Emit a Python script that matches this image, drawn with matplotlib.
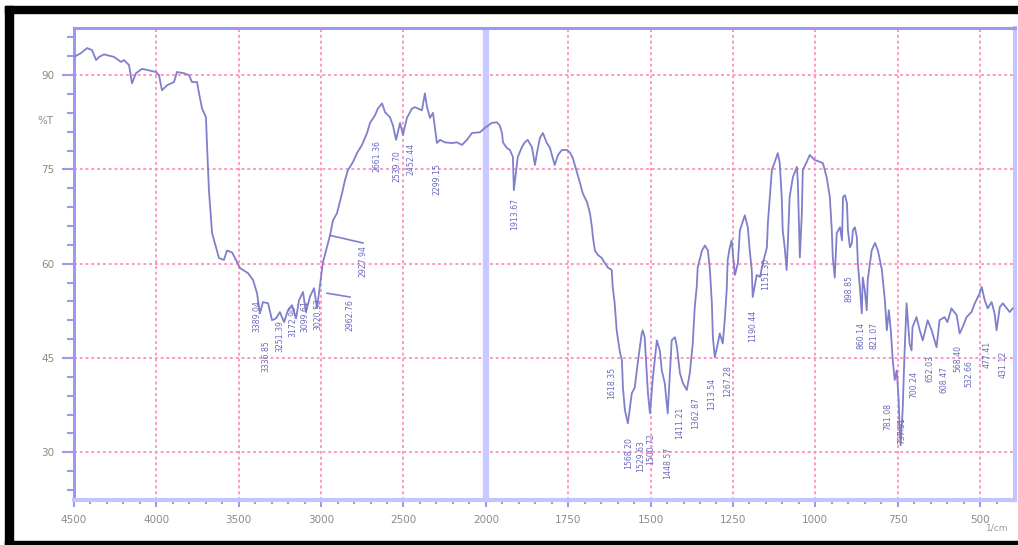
import numpy as np
import matplotlib
matplotlib.use("Agg")
import matplotlib.pyplot as plt
from matplotlib.patches import Rectangle

# ---------------- data ----------------
wavenumber = [4500, 4458, 4421, 4391, 4366, 4348, 4318, 4257, 4215, 4197, 4166, 4148, 4124, 4087, 4002, 3984,
              3966, 3935, 3893, 3875, 3832, 3802, 3784, 3753, 3741, 3723, 3699, 3693, 3681, 3662, 3638, 3620,
              3590, 3571, 3541, 3517, 3492, 3444, 3413, 3389, 3371, 3353, 3322, 3298, 3274, 3250, 3225, 3201,
              3177, 3152, 3134, 3110, 3092, 3067, 3043, 3025, 3007, 2995, 2989, 2970, 2946, 2928, 2904, 2873,
              2855, 2837, 2806, 2782, 2752, 2721, 2703, 2673, 2655, 2630, 2612, 2582, 2564, 2545, 2521, 2503,
              2479, 2448, 2430, 2388, 2370, 2357, 2339, 2321, 2297, 2278, 2248, 2206, 2175, 2145, 2115, 2084,
              2036, 2006, 1982, 1967, 1958, 1951, 1948, 1936, 1927, 1918, 1915, 1903, 1891, 1882, 1873, 1860,
              1851, 1845, 1836, 1827, 1815, 1806, 1791, 1781, 1769, 1754, 1745, 1736, 1724, 1715, 1706, 1693,
              1684, 1678, 1675, 1669, 1660, 1648, 1639, 1630, 1618, 1615, 1609, 1603, 1593, 1587, 1584, 1578,
              1569, 1557, 1548, 1539, 1527, 1524, 1518, 1508, 1502, 1493, 1481, 1472, 1466, 1457, 1448, 1436,
              1426, 1420, 1411, 1402, 1390, 1381, 1372, 1366, 1360, 1357, 1344, 1335, 1326, 1320, 1314, 1311,
              1305, 1296, 1290, 1281, 1275, 1269, 1266, 1260, 1254, 1251, 1244, 1235, 1229, 1214, 1205, 1199,
              1193, 1190, 1178, 1168, 1159, 1147, 1144, 1138, 1132, 1123, 1114, 1108, 1102, 1099, 1093, 1087,
              1084, 1078, 1068, 1056, 1053, 1047, 1041, 1038, 1026, 1017, 1002, 986, 977, 965, 956, 950,
              947, 941, 935, 925, 919, 916, 910, 904, 901, 895, 889, 886, 880, 874, 871, 865,
              859, 856, 850, 844, 841, 829, 819, 810, 798, 789, 783, 777, 771, 765, 759, 753,
              747, 744, 741, 735, 729, 723, 714, 708, 705, 693, 683, 674, 659, 647, 632, 623,
              608, 599, 587, 571, 562, 553, 541, 526, 516, 501, 495, 486, 477, 465, 456, 450,
              440, 431, 419, 410, 401]

transmittance = [92.9, 93.5, 94.3, 94.0, 92.4, 92.9, 93.3, 92.9, 92.1, 92.4, 91.6, 88.7, 90.3, 91.0, 90.5, 90.0,
                 87.6, 88.4, 88.9, 90.5, 90.3, 90.0, 88.9, 88.9, 87.1, 84.7, 83.3, 79.2, 71.7, 64.9, 62.6, 60.9,
                 60.6, 62.1, 61.8, 60.6, 59.3, 58.5, 57.4, 55.3, 52.1, 53.9, 53.7, 51.0, 51.3, 52.3, 50.7, 52.6,
                 53.4, 51.3, 54.2, 55.5, 52.3, 54.8, 56.1, 52.9, 56.6, 59.0, 60.2, 62.1, 64.5, 66.9, 68.0, 71.2,
                 73.3, 74.9, 76.2, 77.6, 78.9, 80.8, 82.4, 83.6, 84.7, 85.5, 84.1, 83.3, 82.0, 79.7, 82.4, 80.5,
                 83.2, 84.7, 84.9, 84.4, 87.1, 84.9, 83.2, 84.0, 79.2, 79.7, 79.3, 79.2, 79.3, 78.9, 79.7, 80.8,
                 80.9, 81.6, 82.4, 82.5, 82.0, 80.8, 79.3, 78.4, 78.1, 77.0, 71.7, 77.0, 78.5, 79.3, 79.7, 78.5,
                 75.7, 77.6, 80.0, 80.8, 79.2, 78.5, 75.7, 77.3, 78.1, 78.1, 77.7, 76.8, 74.6, 73.0, 71.2, 69.8,
                 68.0, 65.8, 64.2, 62.1, 61.4, 60.9, 60.1, 59.4, 59.0, 56.3, 53.7, 49.4, 45.9, 44.6, 40.3, 36.7,
                 34.6, 39.4, 40.3, 44.2, 48.9, 49.4, 48.3, 39.4, 36.2, 41.9, 47.8, 46.2, 43.0, 41.0, 36.2, 47.8,
                 48.3, 46.7, 42.6, 41.0, 39.9, 42.6, 47.3, 53.1, 56.3, 59.4, 62.1, 62.9, 62.1, 59.0, 53.7, 48.3,
                 45.1, 47.3, 48.9, 47.3, 51.0, 55.8, 60.6, 62.5, 63.7, 62.1, 58.2, 60.1, 65.3, 67.7, 65.8, 62.1,
                 59.0, 54.7, 58.2, 57.9, 60.1, 62.6, 66.5, 70.6, 74.9, 76.2, 77.6, 76.0, 70.6, 65.3, 62.6, 59.0,
                 62.6, 70.6, 73.8, 75.4, 72.8, 61.0, 68.0, 74.9, 76.2, 77.3, 76.5, 76.2, 76.0, 73.6, 70.6, 65.3,
                 61.0, 57.8, 64.9, 65.8, 63.7, 70.6, 70.9, 69.6, 65.3, 62.6, 63.3, 65.3, 65.8, 64.2, 60.1, 56.3,
                 52.1, 57.8, 55.8, 52.6, 57.4, 62.1, 63.3, 62.1, 59.0, 54.2, 49.4, 52.6, 49.4, 44.6, 41.5, 43.0,
                 38.3, 33.5, 31.1, 36.7, 46.2, 53.7, 47.3, 46.2, 49.9, 51.5, 49.4, 47.8, 51.0, 49.4, 46.7, 51.0,
                 51.5, 50.7, 52.9, 51.8, 48.9, 49.9, 51.5, 52.3, 53.7, 55.3, 56.3, 54.2, 52.9, 53.9, 52.1, 49.4,
                 53.1, 53.7, 52.9, 52.3, 52.9]

# peak labels (wavenumber, %T at top of label)
peak_wn = [3389.04, 3336.85, 3251.39, 3172.90, 3099.61, 3020.53, 2661.36, 2539.70, 2452.44, 2299.15,
           1913.67, 1618.35, 1568.20, 1529.63, 1500.72, 1448.57, 1411.21, 1362.87, 1313.54, 1267.28,
           1190.44, 1151.30, 898.85, 860.14, 821.07, 781.08, 737.91, 700.24, 652.03, 608.47,
           568.40, 532.66, 477.41, 431.12]
peak_T = [54.2, 47.8, 51.0, 53.4, 54.2, 54.5, 79.7, 78.0, 79.2, 76.0,
          70.4, 43.5, 32.4, 31.9, 33.0, 30.8, 37.2, 38.8, 41.8, 43.9,
          52.6, 61.0, 58.2, 50.7, 50.7, 37.8, 35.6, 43.0, 45.4, 43.8,
          47.0, 44.6, 47.8, 46.2]
# labels attached through leader lines
leader_labels = ["2962.76", "2927.94"]
leader_from_wn = [2964, 2946]
leader_from_T = [55.3, 64.5]
leader_to_wn = [2825, 2746]
leader_to_T = [54.7, 63.3]

x_major = [4500, 4000, 3500, 3000, 2500, 2000, 1750, 1500, 1250, 1000, 750, 500]
y_major = [30, 45, 60, 75, 90]
assert len(wavenumber) == len(transmittance)

# ---------------- figure ----------------
W, H = 1018, 545
fig = plt.figure(figsize=(W / 100, H / 100), dpi=100)
fig.patch.set_facecolor("white")

# black outer frame
fig.patches.append(Rectangle((5 / W, 1 - 13 / H), 1 - 5 / W, 7 / H, transform=fig.transFigure,
                             color="black", zorder=0))
fig.patches.append(Rectangle((5 / W, 0), 8 / W, 1 - 6 / H, transform=fig.transFigure,
                             color="black", zorder=0))
fig.patches.append(Rectangle((5 / W, 0), 1 - 5 / W, 4 / H, transform=fig.transFigure,
                             color="black", zorder=0))

ax = fig.add_axes([74 / W, (H - 500) / H, (1015 - 74) / W, (500 - 28) / H])


def fwd(w):
    w = np.asarray(w, dtype=float)
    return np.where(w > 2000, 2000 + (w - 2000) / 2.0, w)


def inv(t):
    t = np.asarray(t, dtype=float)
    return np.where(t > 2000, 2000 + (t - 2000) * 2.0, t)


ax.set_xscale("function", functions=(fwd, inv))
ax.set_xlim(4500, 394)
ax.set_ylim(22.4, 97.5)

# grid
grid_c = "#ff8fc0"
for gx in x_major:
    if gx in (4500, 2000):
        continue
    ax.axvline(gx, color=grid_c, lw=1.3, dashes=(1.6, 1.6), zorder=1)
for gy in y_major:
    ax.axhline(gy, color=grid_c, lw=1.3, dashes=(1.6, 1.6), zorder=1)
ax.axvline(2000, color="#c9c9ff", lw=4.5, zorder=1)

# spectrum
line_c = "#7f7fcc"
ax.plot(wavenumber, transmittance, color=line_c, lw=1.3, zorder=3)

# peak labels
lab_c = "#6a6abf"
for w, t in zip(peak_wn, peak_T):
    ax.text(w, t, f"{w:.2f}", rotation=90, ha="center", va="top", fontsize=5.6,
            color=lab_c, zorder=4)
for s, fw, ft, tw, tt in zip(leader_labels, leader_from_wn, leader_from_T, leader_to_wn, leader_to_T):
    ax.plot([fw, tw], [ft, tt], color=line_c, lw=1.2, zorder=3)
    ax.text(tw, tt - 0.4, s, rotation=90, ha="center", va="top", fontsize=5.6,
            color=lab_c, zorder=4)

# ticks
ax.set_xticks(x_major)
ax.set_xticklabels([str(v) for v in x_major])
x_minor = [v for v in range(4400, 2000, -100) if v not in x_major] + \
          [v for v in range(1950, 400, -50) if v not in x_major]
ax.set_xticks(x_minor, minor=True)
ax.set_yticks(y_major)
ax.set_yticklabels([str(v) for v in y_major])
ax.set_yticks([v for v in range(24, 97, 3) if v not in y_major], minor=True)

spine_c = "#9a9af5"
ax.tick_params(axis="both", which="both", colors=spine_c, labelcolor="#8a8a8a", labelsize=7.5)
ax.tick_params(axis="y", which="major", length=9, width=1.5, pad=5)
ax.tick_params(axis="y", which="minor", length=5, width=1.5)
ax.tick_params(axis="x", which="major", length=5, width=1.5, pad=6)
ax.tick_params(axis="x", which="minor", length=3, width=1.5)

for side in ("left", "top"):
    ax.spines[side].set_color(spine_c)
    ax.spines[side].set_linewidth(2.2)
for side in ("bottom", "right"):
    ax.spines[side].set_color("#c4c4ff")
    ax.spines[side].set_linewidth(3.0)

# axis captions
ax.text(-0.022, 82.7, "%T", transform=ax.get_yaxis_transform(), ha="right", va="center",
        fontsize=7.5, color="#8a8a8a")
fig.text(997 / W, 1 - 528 / H, "1/cm", ha="center", va="center", fontsize=6.5, color="#9a9a9a")

fig.savefig("out.png", dpi=100, facecolor="white")
